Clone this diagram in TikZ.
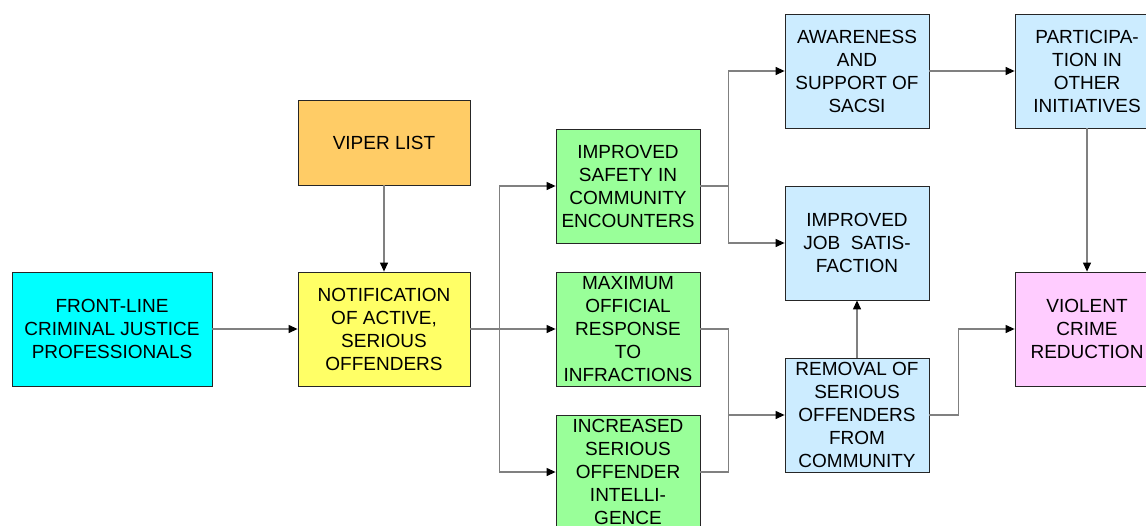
\documentclass[tikz,border=0pt]{standalone}
\usepackage{fontspec}
\setmainfont{Liberation Sans}
\usetikzlibrary{arrows.meta}
\definecolor{boxcyan}{HTML}{00FFFF}
\definecolor{boxorange}{HTML}{FFCC66}
\definecolor{boxyellow}{HTML}{FFFF66}
\definecolor{boxgreen}{HTML}{99FF99}
\definecolor{boxblue}{HTML}{CCECFF}
\definecolor{boxpink}{HTML}{FFCCFF}
\begin{document}
\begin{tikzpicture}
[x=1pt,y=-1pt,
  boxdecorate/.style={shape=rectangle,draw=black!85,line width=0.8pt,align=center,
    inner sep=1pt,font=\fontsize{19}{23}\selectfont},
  linedecorate/.style={draw=black!50,line width=1.2pt},
  arrowdecorate/.style={linedecorate,-{Triangle[length=9pt,width=8pt,color=black]}}]
\clip (0,0) rectangle (1146,525);
%% boxes
\foreach \nodename/\x/\y/\w/\h/\fillcolor/\content in {
  front/112/329/200/114/boxcyan/{FRONT-LINE\\CRIMINAL JUSTICE\\PROFESSIONALS},
  viper/384/142.5/172/85/boxorange/{VIPER LIST},
  notify/384/329/172/114/boxyellow/{NOTIFICATION\\OF ACTIVE,\\SERIOUS\\OFFENDERS},
  safety/628/186/144/114/boxgreen/{IMPROVED\\SAFETY IN\\COMMUNITY\\ENCOUNTERS},
  maxresp/628/329/144/114/boxgreen/{MAXIMUM\\OFFICIAL\\RESPONSE\\TO\\INFRACTIONS},
  intel/628/472/144/114/boxgreen/{INCREASED\\SERIOUS\\OFFENDER\\INTELLI-\\GENCE},
  aware/857/71/144/114/boxblue/{AWARENESS\\AND\\SUPPORT OF\\SACSI},
  jobsat/857/243/144/114/boxblue/{IMPROVED\\JOB\ \ SATIS-\\FACTION},
  removal/857/415/144/114/boxblue/{REMOVAL OF\\SERIOUS\\OFFENDERS\\FROM\\COMMUNITY},
  partic/1087/71/144/114/boxblue/{PARTICIPA-\\TION IN\\OTHER\\INITIATIVES},
  crime/1087/329/144/114/boxpink/{VIOLENT\\CRIME\\REDUCTION}}
{
  \node (\nodename) at (\x,\y) [boxdecorate,fill=\fillcolor,
    minimum width=\w pt,minimum height=\h pt] {\content};
}
%% connectors
\draw[arrowdecorate] (front) -- (notify);
\draw[arrowdecorate] (viper) -- (notify);
\draw[linedecorate] (notify.east) -- ++(29,0) coordinate (fanA);
\foreach \endnode in {safety, maxresp, intel}
  \draw[arrowdecorate] (fanA) |- (\endnode);
\draw[linedecorate] (safety.east) -- ++(28,0) coordinate (fanB);
\foreach \endnode in {aware, jobsat}
  \draw[arrowdecorate] (fanB) |- (\endnode);
\draw[linedecorate] (maxresp.east) -- ++(28,0) coordinate (joinA) |- (intel.east);
\draw[arrowdecorate] (joinA |- removal) -- (removal);
\draw[arrowdecorate] (removal.east) -- ++(29,0) |- (crime);
\draw[arrowdecorate] (aware) -- (partic);
\draw[arrowdecorate] (removal) -- (jobsat);
\draw[arrowdecorate] (partic) -- (crime);
\end{tikzpicture}
\end{document}
